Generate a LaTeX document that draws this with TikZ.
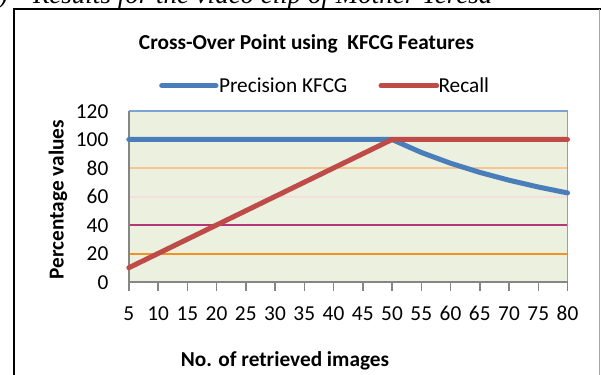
\documentclass[tikz,border=0pt]{standalone}
\usepackage{fontspec}
\setmainfont{Carlito}
\newfontfamily\capserif{Liberation Serif}
\definecolor{plotbg}{HTML}{EBF0DF}
\definecolor{precblue}{HTML}{4A7EBB}
\definecolor{recred}{HTML}{BE4B48}
\definecolor{gridA}{HTML}{F39224}
\definecolor{gridB}{HTML}{B2387A}
\definecolor{gridC}{HTML}{F5DEDE}
\definecolor{gridD}{HTML}{F8C494}
\definecolor{axisgray}{HTML}{868686}
\definecolor{rimblue}{HTML}{7DA2D6}
\begin{document}
\begin{tikzpicture}[x=1pt,y=-1pt,
  every node/.style={inner sep=0pt,outer sep=0pt},
  lbl/.style={font=\fontsize{21.3}{25}\selectfont},
  boldlbl/.style={font=\fontsize{21.3}{25}\selectfont\bfseries},
  axisline/.style={draw=axisgray,line width=1.5pt},
  gridline/.style={line width=2pt},
  series/.style={line width=5pt,line join=round,line cap=round},
  precline/.style={series,draw=precblue},
  recline/.style={series,draw=recred},
  legline/.style={line width=5pt,line cap=round}]
\useasboundingbox (0,0) rectangle (601,374);
\clip (0,0) rectangle (601,374);

% caption line above the chart frame
\node[anchor=base east,font=\capserif\itshape\fontsize{27}{30}\selectfont] (capnum) at (8,4) {(b)};
\node[anchor=base west,font=\capserif\itshape\fontsize{27}{30}\selectfont] (captext) at (33,4) {Results for the video clip of Mother Teresa};

% chart frame
\draw[black,line width=1.5pt] (600.5,9) -- (13.8,9) -- (13.8,380);
\draw[gray!70,line width=1pt] (599.5,9.5) -- (599.5,380);

% plot area
\coordinate (pa) at (128.8,111);
\coordinate (pb) at (567.5,282);
\fill[plotbg] (pa) rectangle (pb);

% horizontal gridlines
\draw[gridline,draw=gridA] (128.8,253.5) -- (567.5,253.5);
\draw[gridline,draw=gridB] (128.8,225) -- (567.5,225);
\draw[gridline,draw=gridC] (128.8,196.5) -- (567.5,196.5);
\draw[gridline,draw=gridD] (128.8,168) -- (567.5,168);

% plot border (top, right)
\draw[draw=rimblue,line width=1.5pt] (128.8,111) -- (567.5,111) -- (567.5,282);

% vertical axis and labels
\draw[axisline] (128.8,111) -- (128.8,291);
\foreach \v in {0,20,...,120}{
  \node[lbl,anchor=base east] (yl\v) at (108.3,{282-\v*1.425+7.2}) {\v};
}

% category axis, ticks and labels
\draw[axisline] (128.8,282) -- (567.5,282);
\foreach \n [count=\i from 0] in {5,10,...,80}{
  \coordinate (t\n) at ({128.8+\i*29.247},282);
  \draw[axisline] (t\n) -- ++(0,9);
  \node[lbl,anchor=base] (xl\n) at ({128.8+\i*29.247},320) {\n};
  \pgfmathsetmacro\pv{\n<51 ? 100 : 5000/\n}
  \pgfmathsetmacro\rv{\n<51 ? 2*\n : 100}
  \coordinate (pr\n) at ({128.8+\i*29.247},{282-\pv*1.425});
  \coordinate (rc\n) at ({128.8+\i*29.247},{282-\rv*1.425});
}

% data series
\draw[precline] (pr5) \foreach \n in {10,15,...,80}{ -- (pr\n)};
\draw[recline] (rc5) \foreach \n in {10,15,...,80}{ -- (rc\n)};

% title
\node[boldlbl,anchor=base] (title) at (306.5,49.5) {Cross-Over Point using\ \ KFCG Features};

% legend
\coordinate (lp1) at (161.7,85.7);
\coordinate (lp2) at (216,85.7);
\coordinate (lr1) at (381,85.7);
\coordinate (lr2) at (436.7,85.7);
\draw[legline,draw=precblue] (lp1) -- (lp2);
\node[lbl,anchor=base west] (legprec) at (219,92.7) {Precision KFCG};
\draw[legline,draw=recred] (lr1) -- (lr2);
\node[lbl,anchor=base west] (legrec) at (438.5,92.7) {Recall};

% axis titles
\node[boldlbl,anchor=base,rotate=90] (ytitle) at (63.5,199.5) {Percentage values};
\node[boldlbl,anchor=base] (xtitle) at (285,366) {No. of retrieved images};
\end{tikzpicture}
\end{document}
